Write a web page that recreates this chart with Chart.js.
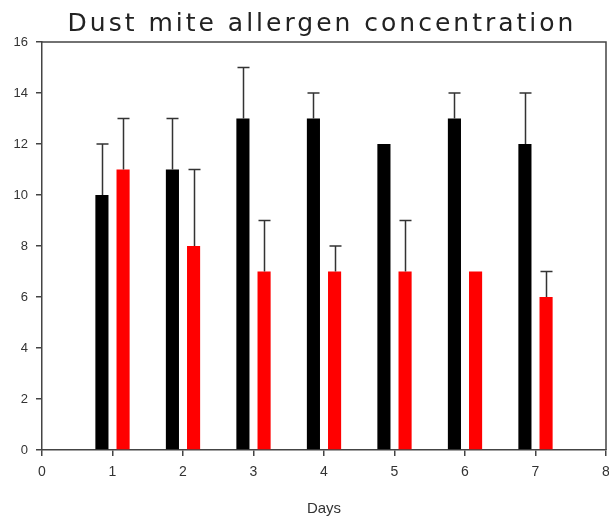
<!DOCTYPE html>
<html>
<head>
<meta charset="utf-8">
<script src="https://cdn.jsdelivr.net/npm/chart.js@4/dist/chart.umd.min.js"></script>
<style>
  html, body { margin: 0; padding: 0; background: #fff; }
  #wrap { width: 609px; height: 518px; }
</style>
</head>
<body>
<div id="wrap"><canvas id="chart"></canvas></div>
<script>
var chartTitle = 'Dust mite allergen concentration'
var days = [1, 2, 3, 4, 5, 6, 7]
var blackValues = [10, 11, 13, 13, 12, 13, 12]
var blackUpper = [12, 13, 15, 14, 12, 14, 14]
var redValues = [11, 8, 7, 7, 7, 7, 6]
var redUpper = [13, 11, 9, 8, 9, 7, 7]
var xTicks = [0, 1, 2, 3, 4, 5, 6, 7, 8]
var yTicks = [0, 2, 4, 6, 8, 10, 12, 14, 16]

function points(vals) {
  return days.map(function (d, i) { return { x: d, y: vals[i] } })
}

// error bars (upper only), frame on top/right, spaced-out title
var extras = {
  id: 'extras',
  afterDatasetsDraw: function (chart) {
    var ctx = chart.ctx
    var yS = chart.scales.y
    var sets = [blackUpper, redUpper]
    ctx.save()
    ctx.strokeStyle = '#333'
    ctx.lineWidth = 1.5
    sets.forEach(function (upper, di) {
      var meta = chart.getDatasetMeta(di)
      meta.data.forEach(function (bar, i) {
        if (upper[i] <= chart.data.datasets[di].data[i].y) return
        var x = Math.round(bar.x) + 0.5
        var yTop = yS.getPixelForValue(upper[i])
        ctx.beginPath()
        ctx.moveTo(x, bar.y)
        ctx.lineTo(x, yTop)
        ctx.moveTo(x - 6, yTop)
        ctx.lineTo(x + 6, yTop)
        ctx.stroke()
      })
    })
    var a = chart.chartArea
    ctx.strokeStyle = '#444'
    ctx.lineWidth = 1.5
    ctx.beginPath()
    ctx.moveTo(a.left, a.top)
    ctx.lineTo(a.right, a.top)
    ctx.lineTo(a.right, a.bottom)
    ctx.stroke()

    ctx.fillStyle = '#222'
    ctx.font = '25px "DejaVu Sans"'
    ctx.letterSpacing = '3px'
    ctx.textAlign = 'center'
    ctx.textBaseline = 'alphabetic'
    ctx.fillText(chartTitle, 322, 31)
    ctx.restore()
  }
}

new Chart('chart', {
  type: 'bar',
  data: {
    datasets: [{
      data: points(blackValues),
      backgroundColor: '#000000',
      borderWidth: 0,
      categoryPercentage: 0.6,
      barPercentage: 0.62
    }, {
      data: points(redValues),
      backgroundColor: '#ff0000',
      borderWidth: 0,
      categoryPercentage: 0.6,
      barPercentage: 0.62
    }]
  },
  options: {
    responsive: true,
    maintainAspectRatio: false,
    animation: false,
    layout: { padding: { left: 0, right: 3, top: 42, bottom: 0 } },
    plugins: {
      legend: { display: false },
      tooltip: { enabled: false },
      title: { display: false }
    },
    scales: {
      x: {
        type: 'linear',
        min: 0,
        max: 8,
        offset: false,
        afterBuildTicks: function (s) { s.ticks = xTicks.map(function (v) { return { value: v } }) },
        grid: { offset: false, drawOnChartArea: false, drawTicks: true, tickLength: 6, color: '#444', lineWidth: 1.5 },
        border: { color: '#444', width: 1.5 },
        ticks: { color: '#333', font: { family: 'Liberation Sans', size: 14 }, padding: 8 },
        title: {
          display: true,
          text: 'Days',
          color: '#333',
          font: { family: 'Liberation Sans', size: 15 },
          padding: { top: 10, bottom: 0 }
        },
        afterFit: function (s) { s.height = 68; s.paddingLeft = 0; s.paddingRight = 0 }
      },
      y: {
        min: 0,
        max: 16,
        afterBuildTicks: function (s) { s.ticks = yTicks.map(function (v) { return { value: v } }) },
        grid: { drawOnChartArea: false, drawTicks: true, tickLength: 6, color: '#444', lineWidth: 1.5 },
        border: { color: '#444', width: 1.5 },
        ticks: { color: '#333', font: { family: 'Liberation Sans', size: 13 }, padding: 8 },
        afterFit: function (s) { s.width = 42; s.paddingTop = 0; s.paddingBottom = 0 }
      }
    }
  },
  plugins: [extras]
})
</script>
</body>
</html>
